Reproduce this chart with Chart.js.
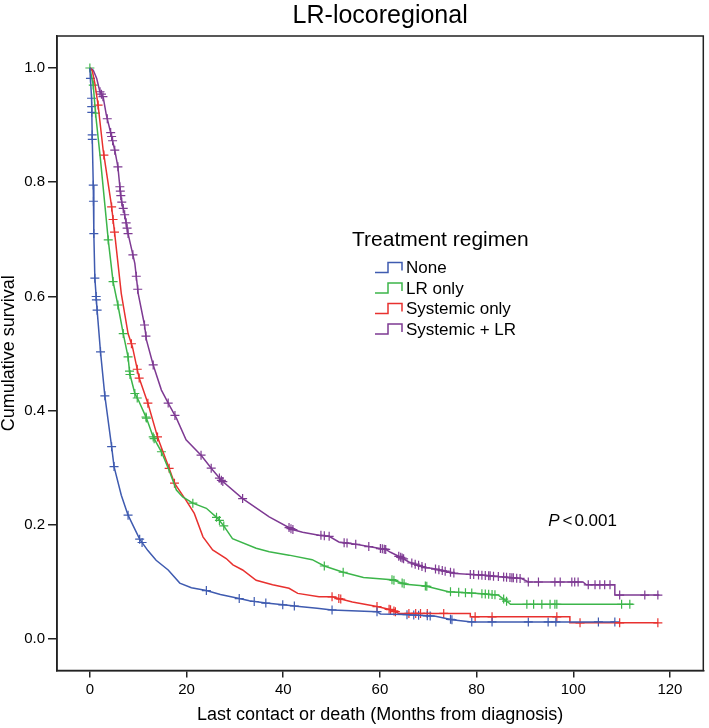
<!DOCTYPE html>
<html>
<head>
<meta charset="utf-8">
<script src="https://cdn.jsdelivr.net/npm/chart.js@4.4.1/dist/chart.umd.min.js"></script>
<style>
html,body{margin:0;padding:0;background:#fff;}
#wrap{width:709px;height:728px;}
</style>
</head>
<body>
<div id="wrap"><canvas id="c" width="709" height="728"></canvas></div>
<script>
// ---- data ----
const groupNames = ['None', 'LR only', 'Systemic only', 'Systemic + LR'];
const groupColors = ['#3f5bb0', '#3cb54a', '#e8312f', '#7e3a93'];

const noneMonths = [0, 0.35, 0.48, 0.7, 0.82, 1.03, 1.5, 2.2, 3.1, 4.5, 5.0, 6.5, 7.9, 10.3, 12, 13.7, 16.2, 18.6, 21, 24.1, 27, 30.9, 33, 36.4, 40, 43.3, 47, 50.1, 59.4, 60.1, 65, 71.5, 74.9, 79, 108.6];
const noneSurv   = [1, 0.947, 0.883, 0.795, 0.71, 0.632, 0.576, 0.503, 0.426, 0.337, 0.302, 0.252, 0.217, 0.175, 0.155, 0.138, 0.121, 0.098, 0.090, 0.085, 0.078, 0.071, 0.067, 0.063, 0.060, 0.057, 0.054, 0.051, 0.048, 0.044, 0.043, 0.040, 0.034, 0.030, 0.030];
const noneCensor = [0.12, 0.35, 0.38, 0.40, 0.48, 0.50, 0.70, 0.74, 0.82, 1.03, 1.3, 1.35, 1.5, 2.2, 3.1, 4.5, 5.0, 7.9, 10.3, 10.8, 24.1, 30.9, 34, 36.4, 39.9, 42.3, 50.1, 59.4, 65.6, 67, 68, 69.8, 70.4, 74.6, 74.9, 79, 83.2, 90.7, 94.8, 96.4, 105.2, 108.6];

const lrMonths = [0, 0.7, 1.17, 2.2, 3.8, 4.8, 5.8, 6.9, 7.9, 8.25, 9.3, 10.0, 11.7, 13.1, 14.8, 16.5, 17.9, 19.2, 21.3, 24.1, 26.5, 27.8, 29.5, 34.4, 37.1, 41.2, 46, 48.5, 52.4, 56.6, 62.5, 65.3, 69.4, 74.2, 80.4, 84.5, 85.6, 86.6, 87, 112.4];
const lrSurv   = [1, 0.970, 0.921, 0.839, 0.699, 0.626, 0.585, 0.535, 0.494, 0.465, 0.430, 0.419, 0.387, 0.354, 0.328, 0.293, 0.261, 0.249, 0.238, 0.229, 0.211, 0.197, 0.176, 0.159, 0.153, 0.147, 0.139, 0.128, 0.117, 0.108, 0.104, 0.096, 0.093, 0.083, 0.080, 0.077, 0.070, 0.064, 0.061, 0.061];
const lrCensor = [0, 0.7, 1.17, 3.8, 4.8, 5.8, 6.9, 7.9, 8.2, 8.3, 9.3, 9.8, 11.6, 11.7, 13.1, 13.3, 14.8, 21.3, 26.2, 26.8, 27.7, 48.5, 52.4, 62.5, 62.9, 64.6, 65, 69.4, 69.7, 74.6, 76.3, 77.7, 79, 81.1, 81.8, 82.5, 83.2, 83.8, 85.6, 86.2, 90.4, 91.8, 93.5, 95.2, 96.2, 96.6, 110, 111.7];

const sysMonths = [0, 0.5, 1.03, 1.7, 2.75, 4.47, 5.15, 6.5, 7.9, 8.8, 9.76, 10.2, 12.0, 14.1, 16.4, 17.5, 19.9, 21.6, 23.4, 25.4, 28.2, 29.6, 31.6, 34.4, 37.8, 41.2, 43.0, 47.4, 50.1, 54.3, 59.4, 62.5, 63.9, 78.7, 78.7, 99.3, 99.3, 117.5];
const sysSurv   = [1, 0.995, 0.973, 0.935, 0.856, 0.759, 0.709, 0.605, 0.535, 0.512, 0.474, 0.457, 0.413, 0.351, 0.299, 0.273, 0.243, 0.220, 0.179, 0.156, 0.141, 0.130, 0.121, 0.103, 0.095, 0.089, 0.080, 0.074, 0.074, 0.065, 0.057, 0.051, 0.045, 0.045, 0.039, 0.039, 0.0285, 0.0285];
const sysCensor = [1.7, 2.9, 4.5, 4.8, 5.1, 8.6, 9.8, 10.2, 12, 14, 16.4, 17.5, 50.1, 51.5, 51.9, 59.4, 61.9, 62.2, 62.9, 63.2, 66, 67.4, 68.4, 69.8, 73.2, 79.7, 83.2, 96.6, 101.4, 109.6, 117.5];

const bothMonths = [0, 0.7, 1.4, 2.06, 2.75, 3.4, 4.5, 5.15, 5.8, 6.2, 6.5, 7.2, 7.9, 9.3, 10.0, 11.3, 11.7, 13.1, 14.8, 16.4, 17.9, 19.9, 23.0, 25.4, 27.2, 31.6, 37.1, 41.9, 44, 47.4, 49.5, 51.5, 55, 57.7, 61.2, 62.2, 64.6, 66, 69.4, 70.7, 75.6, 81.1, 89.3, 90.7, 102, 102.7, 108.6, 108.6, 117.8];
const bothSurv   = [1, 0.996, 0.982, 0.959, 0.949, 0.918, 0.880, 0.856, 0.827, 0.792, 0.769, 0.743, 0.710, 0.658, 0.605, 0.550, 0.524, 0.480, 0.436, 0.410, 0.387, 0.349, 0.322, 0.296, 0.278, 0.246, 0.214, 0.192, 0.187, 0.182, 0.180, 0.170, 0.166, 0.162, 0.157, 0.152, 0.142, 0.135, 0.125, 0.124, 0.115, 0.112, 0.106, 0.100, 0.100, 0.095, 0.095, 0.077, 0.077];
const bothCensor = [2.1, 2.4, 2.7, 3.6, 4.3, 4.5, 4.7, 5.15, 5.8, 6.2, 6.3, 6.4, 6.6, 6.9, 7.2, 7.5, 7.7, 7.9, 8.9, 9.6, 9.9, 11.3, 11.6, 13.1, 16.2, 17.6, 23, 25.1, 26.8, 27.2, 27.5, 31.6, 41.2, 41.6, 42.0, 47.8, 48.5, 49.5, 52.6, 53.2, 55, 57.7, 60.1, 60.5, 60.9, 61.2, 63.9, 64.3, 64.6, 64.9, 66.6, 67.3, 68, 68.7, 69.4, 71.5, 72.2, 72.9, 73.5, 74.6, 75.3, 78.7, 79.4, 80.4, 81.1, 81.8, 82.5, 82.8, 83.5, 84.5, 85.6, 86.2, 86.9, 87.3, 87.6, 88.3, 89, 90.7, 92.8, 96.2, 97.3, 99.7, 100.3, 101, 103.1, 104.5, 105.5, 106.5, 107.6, 109.6, 114.8, 117.5];

const xTicks = [0, 20, 40, 60, 80, 100, 120];
const yTicks = [0, 0.2, 0.4, 0.6, 0.8, 1.0];

const chartTitle = 'LR-locoregional';
const xTitle = 'Last contact or death (Months from diagnosis)';
const yTitle = 'Cumulative survival';
const legendTitle = 'Treatment regimen';

// ---- helpers ----
function survAt(ts, ss, t) {
  for (let i = 1; i < ts.length; i++) {
    if (t <= ts[i]) {
      const t0 = ts[i - 1], t1 = ts[i];
      if (t1 === t0) return ss[i - 1];
      return ss[i - 1] + (ss[i] - ss[i - 1]) * (t - t0) / (t1 - t0);
    }
  }
  return ss[ss.length - 1];
}
const series = [
  [noneMonths, noneSurv, noneCensor],
  [lrMonths, lrSurv, lrCensor],
  [sysMonths, sysSurv, sysCensor],
  [bothMonths, bothSurv, bothCensor]
];

const FONT = "'Liberation Sans', Arial, Helvetica, sans-serif";
const datasets = [];
series.forEach((s, g) => {
  datasets.push({
    label: groupNames[g],
    data: s[0].map((t, i) => ({x: t, y: s[1][i]})),
    showLine: true, borderColor: groupColors[g], borderWidth: 1.5,
    pointRadius: 0, fill: false, tension: 0
  });
});
series.forEach((s, g) => {
  datasets.push({
    label: groupNames[g] + ' censored',
    data: s[2].map(t => ({x: t, y: survAt(s[0], s[1], t)})),
    showLine: false, pointStyle: 'cross', pointRadius: 4.5,
    borderColor: groupColors[g], pointBorderWidth: 1.2, backgroundColor: groupColors[g]
  });
});

const decor = {
  id: 'decor',
  afterDraw(chart) {
    const ctx = chart.ctx, a = chart.chartArea;
    ctx.save();
    ctx.strokeStyle = '#222'; ctx.lineWidth = 1.5;
    ctx.strokeRect(a.left, a.top, a.right - a.left, a.bottom - a.top);
    // legend
    const lx = a.left + 295, ly = a.top + 204;
    ctx.fillStyle = '#000';
    ctx.textBaseline = 'middle';
    ctx.font = '21px ' + FONT;
    ctx.fillText(legendTitle, lx, ly);
    ctx.font = '17px ' + FONT;
    groupNames.forEach((n, i) => {
      const cy = ly + 28.5 + i * 20.5;
      ctx.strokeStyle = groupColors[i]; ctx.lineWidth = 1.5;
      ctx.beginPath();
      ctx.moveTo(lx + 23, cy + 4); ctx.lineTo(lx + 36, cy + 4);
      ctx.lineTo(lx + 36, cy - 6); ctx.lineTo(lx + 50, cy - 6);
      ctx.lineTo(lx + 50, cy + 2);
      ctx.stroke();
      ctx.fillText(n, lx + 54, cy);
    });
    // p-value
    const px = chart.scales.x.getPixelForValue(94.8);
    const py = chart.scales.y.getPixelForValue(0.207);
    ctx.font = 'italic 17px ' + FONT;
    ctx.fillText('P', px, py);
    let w = ctx.measureText('P').width + 3;
    ctx.font = '17px ' + FONT;
    ctx.fillText('<', px + w, py);
    w += ctx.measureText('<').width + 2;
    ctx.fillText('0.001', px + w, py);
    ctx.restore();
  }
};

new Chart(document.getElementById('c'), {
  type: 'scatter',
  data: {datasets},
  plugins: [decor],
  options: {
    responsive: false, animation: false,
    layout: {padding: {left: 0, right: 4, top: 0, bottom: 0}},
    plugins: {
      legend: {display: false},
      tooltip: {enabled: false},
      title: {display: true, text: chartTitle, fullSize: false, color: '#000',
        font: {family: FONT, size: 25, weight: 'normal', lineHeight: 1.2},
        padding: {top: 1, bottom: 5}}
    },
    scales: {
      x: {
        type: 'linear', min: -6.8, max: 126.9,
        afterBuildTicks: s => { s.ticks = xTicks.map(v => ({value: v})); },
        afterFit: s => { s.height = 57.5; },
        ticks: {color: '#000', font: {family: FONT, size: 15}, padding: 3, maxRotation: 0},
        grid: {drawOnChartArea: false, drawTicks: true, tickLength: 7, color: '#222', lineWidth: 1.5},
        border: {display: true, color: '#222', width: 1.5},
        title: {display: true, text: xTitle, color: '#000',
          font: {family: FONT, size: 18, lineHeight: 1}, padding: {top: 0, bottom: 4}}
      },
      y: {
        type: 'linear', min: -0.055, max: 1.056,
        afterBuildTicks: s => { s.ticks = yTicks.map(v => ({value: v})); },
        afterFit: s => { s.width = 57; },
        ticks: {color: '#000', font: {family: FONT, size: 15}, padding: 3,
          callback: v => Number(v).toFixed(1)},
        grid: {drawOnChartArea: false, drawTicks: true, tickLength: 9, color: '#222', lineWidth: 1.5},
        border: {display: true, color: '#222', width: 1.5},
        title: {display: true, text: yTitle, color: '#000',
          font: {family: FONT, size: 18, lineHeight: 1}, padding: {top: 0, bottom: 0}}
      }
    }
  }
});
</script>
</body>
</html>
